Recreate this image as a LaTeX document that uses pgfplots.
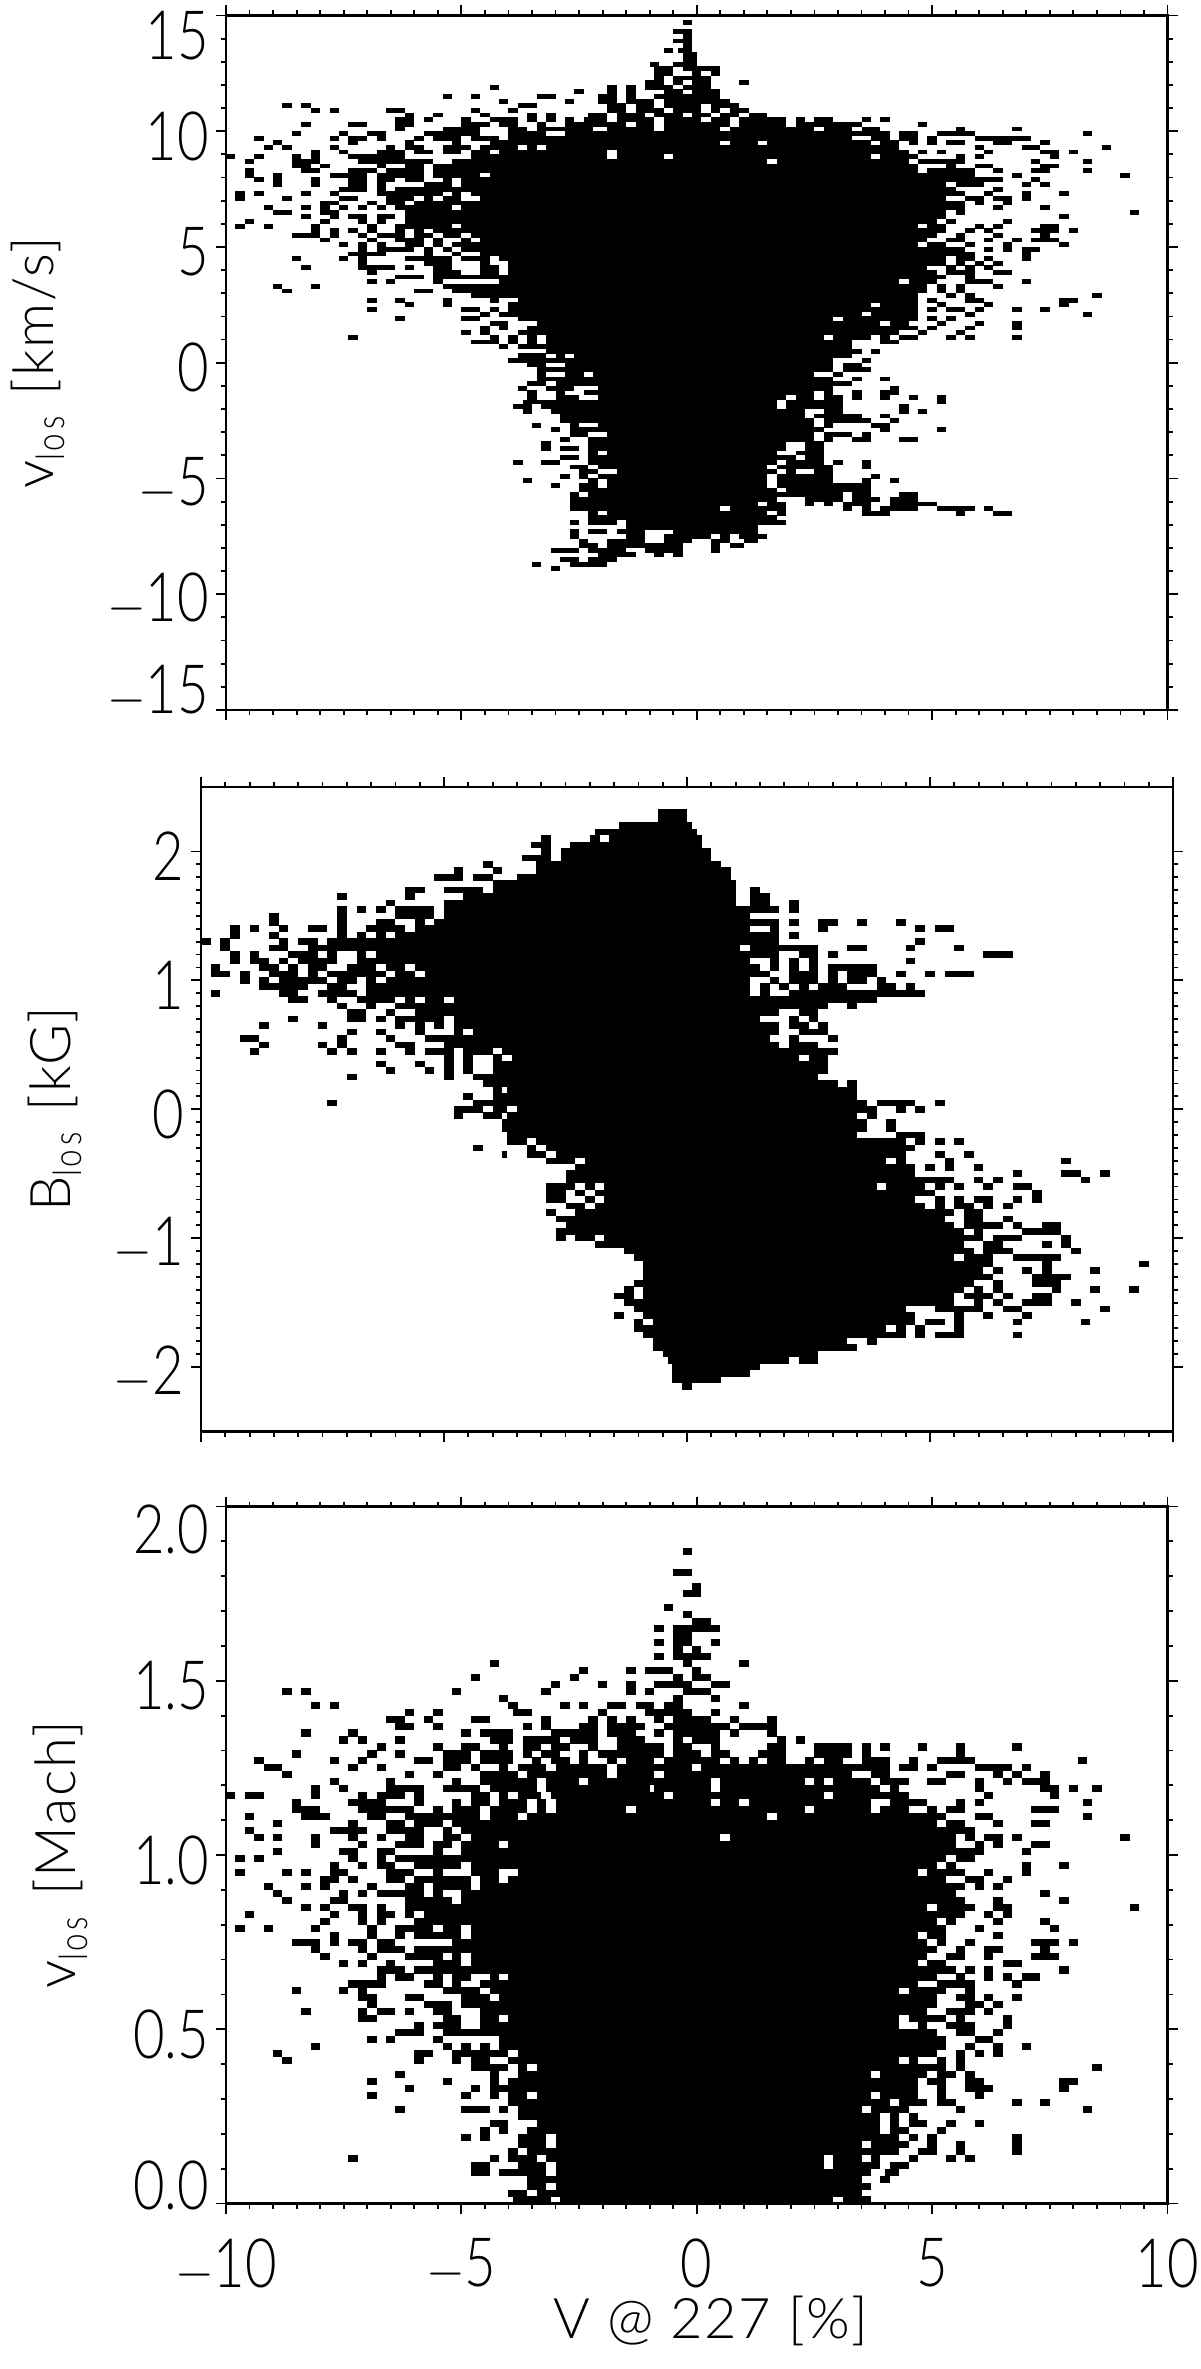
\documentclass[border=0pt]{standalone}
\usepackage{pgfplots}
\pgfplotsset{compat=1.18}
\usepackage{fontspec}
\setmainfont[FakeStretch=0.8]{Lato Light}
\newfontfamily\labfont[LetterSpace=3]{Lato Light}
\pgfplotsset{
 panel/.style={
  scale only axis, width=470.75pt, xmin=-10, xmax=10,
  axis line style={line width=1.3pt},
  tick align=outside, tick pos=both,
  major tick length=5pt, minor tick length=2.5pt,
  every tick/.style={black, line width=.9pt},
  xtick={-10,-5,0,5,10}, minor x tick num=9,
  tick label style={font=\fontsize{34}{34}\selectfont},
  yticklabel style={yshift=-2.5pt},
  xticklabel style={yshift=-9pt},
  label style={font=\labfont\fontsize{28}{28}\selectfont},
 },
}
% every row of a panel is a list of black runs: y, run start, run end
\makeatletter
\def\readruns#1#2{\global\let\r@t#1\global\r@t{}\r@n#2\end}
\def\r@n#1{\ifx#1\end\else\expandafter\r@@\expandafter#1\fi}
\def\r@@#1 #2 #3\\{\global\r@t\expandafter{\the\r@t(#2,#1)(#3,#1)(nan,nan) }\r@n}
\makeatother
\newcommand\runplot[2]{\edef\tmp{\noexpand\addplot[black, line width=#2, unbounded coords=jump] coordinates {\the#1};}\tmp}
\newtoks\runsA \newtoks\runsB \newtoks\runsC
\readruns\runsA{
14.7 -.3 -.1\\ 14.3 -.5 -.1\\ 14.1 -.3 -.1\\ 13.9 -.5 -.1\\ 13.7 -.3 -.1\\ 13.5 -.7 -.5\\ 13.5 -.4 -.1\\ 13.3 -.3 0\\ 13.1 -.3 0\\ 12.9 -1 -.8\\ 12.9 -.5 0\\
12.7 -.9 -.5\\ 12.7 -.3 .5\\ 12.5 -.9 -.5\\ 12.5 -.1 .1\\ 12.5 .3 .5\\ 12.3 -.9 -.7\\ 12.3 -.5 .3\\ 12.1 -1.1 -.7\\ 12.1 -.5 -.3\\ 12.1 -.1 .3\\ 12.1 .9 1.1\\
11.9 -4.4 -4.2\\ 11.9 -1.9 -1.7\\ 11.9 -1.5 -1.3\\ 11.9 -1.1 -.5\\ 11.9 -.3 .3\\
11.7 -2.6 -2.4\\ 11.7 -1.9 -1.7\\ 11.7 -1.5 -1.3\\ 11.7 -.7 -.3\\ 11.7 -.1 .5\\
11.5 -5.4 -5.2\\ 11.5 -4.8 -4.6\\ 11.5 -3.4 -3\\ 11.5 -2.1 -1.7\\ 11.5 -1.5 -1.3\\ 11.5 -.9 .5\\
11.3 -4.2 -4\\ 11.3 -2.8 -2.6\\ 11.3 -2.1 -1.7\\ 11.3 -1.5 -.9\\ 11.3 -.7 .7\\
11.1 -8.8 -8.6\\ 11.1 -8.4 -8.2\\ 11.1 -3.8 -3.4\\ 11.1 -1.9 -1.5\\ 11.1 -1.3 -.9\\ 11.1 -.7 .1\\ 11.1 .3 .9\\
10.9 -8.2 -8\\ 10.9 -7.8 -7.6\\ 10.9 -6.6 -6.2\\ 10.9 -4.8 -4.6\\ 10.9 -4 -3.8\\ 10.9 -1.9 -1.5\\ 10.9 -1.3 -.7\\ 10.9 -.5 .1\\ 10.9 .3 .5\\ 10.9 .7 1.1\\
10.7 -6.2 -6\\ 10.7 -5.6 -5.4\\ 10.7 -4.6 -4.4\\ 10.7 -3.6 -3.4\\ 10.7 -3.2 -3\\ 10.7 -2.3 -1.9\\ 10.7 -1.7 -1.1\\ 10.7 -.9 -.3\\ 10.7 -.1 .3\\ 10.7 .5 .9\\ 10.7 1.1 1.5\\
10.5 -6.4 -6\\ 10.5 -5.8 -5.6\\ 10.5 -5 -4.8\\ 10.5 -4.4 -3.8\\ 10.5 -3.6 -3.4\\ 10.5 -3.2 -3\\ 10.5 -2.8 -2.6\\ 10.5 -2.4 -1.9\\ 10.5 -1.7 -.9\\ 10.5 -.7 .1\\ 10.5 .3 .7\\ 10.5 .9 1.9\\ 10.5 2.1 2.3\\ 10.5 2.5 2.9\\ 10.5 3.5 3.7\\ 10.5 3.9 4.1\\
10.3 -8.4 -8.2\\ 10.3 -7.4 -7\\ 10.3 -6.4 -6\\ 10.3 -5 -4.4\\ 10.3 -4.2 -3.8\\ 10.3 -3.4 -3.2\\ 10.3 -2.8 -1.5\\ 10.3 -1.3 -.9\\ 10.3 -.7 .7\\ 10.3 .9 1.9\\ 10.3 2.1 3.5\\ 10.3 4.7 4.9\\
10.1 -6.4 -6.2\\ 10.1 -5.4 -4.6\\ 10.1 -4 -3.6\\ 10.1 -3.4 -2.2\\ 10.1 -1.9 -.9\\ 10.1 -.7 .5\\ 10.1 .7 2.5\\ 10.1 2.7 3.3\\ 10.1 3.5 3.9\\ 10.1 5.5 5.7\\ 10.1 6.7 6.9\\
9.9 -8.6 -8.4\\ 9.9 -7.6 -7.4\\ 9.9 -7 -6.6\\ 9.9 -5.8 -4.6\\ 9.9 -4 -3.2\\ 9.9 -2.8 4.1\\ 9.9 4.3 4.7\\ 9.9 5.1 5.9\\ 9.9 8.2 8.4\\
9.7 -9.4 -9.2\\ 9.7 -7.8 -7.6\\ 9.7 -7.4 -7\\ 9.7 -6.8 -6.6\\ 9.7 -6 -5.8\\ 9.7 -5.6 -5\\ 9.7 -4.8 -4.2\\ 9.7 -4 3.3\\ 9.7 3.7 4.1\\ 9.7 4.3 4.7\\ 9.7 4.9 5.1\\ 9.7 5.9 7.1\\
9.5 -9 -8.8\\ 9.5 -7.4 -7.2\\ 9.5 -6.2 -6\\ 9.5 -5.2 -5\\ 9.5 -4.4 .5\\ 9.5 .7 1.3\\ 9.5 1.5 3.7\\ 9.5 3.9 4.3\\ 9.5 4.5 4.7\\ 9.5 4.9 5.1\\ 9.5 5.3 5.7\\ 9.5 6.3 6.7\\ 9.5 7.3 7.5\\
9.3 -9.2 -9\\ 9.3 -8.8 -8.6\\ 9.3 -7.8 -7.6\\ 9.3 -6.6 -6.4\\ 9.3 -6.2 -5.8\\ 9.3 -5.4 -4.8\\ 9.3 -4.6 -3.8\\ 9.3 -3.6 -3.4\\ 9.3 -3.2 4.3\\ 9.3 5.9 6.1\\ 9.3 6.9 7.3\\ 9.3 8.6 8.8\\
9.1 -8.2 -8\\ 9.1 -7.6 -7.4\\ 9.1 -6.8 -6.2\\ 9.1 -6 -5.6\\ 9.1 -5.4 -5\\ 9.1 -4.8 -4.4\\ 9.1 -4.2 -1.9\\ 9.1 -1.7 4.5\\ 9.1 4.7 4.9\\ 9.1 5.1 5.3\\ 9.1 6.1 6.3\\ 9.1 7.3 7.7\\ 9.1 7.9 8.1\\
8.9 -10 -9.8\\ 8.9 -9.4 -9.2\\ 8.9 -8.6 -8.4\\ 8.9 -8.2 -8\\ 8.9 -7.4 -6.2\\ 8.9 -4.8 -1.9\\ 8.9 -1.7 -.7\\ 8.9 -.5 3.7\\ 8.9 3.9 4.7\\ 8.9 5.5 5.7\\ 8.9 5.9 6.1\\ 8.9 7.5 7.7\\
8.7 -9.6 -9.4\\ 8.7 -8.6 -8\\ 8.7 -7.2 -5.6\\ 8.7 -5.2 1.5\\ 8.7 1.7 4.5\\ 8.7 4.7 5.7\\ 8.7 7.1 7.3\\ 8.7 8.2 8.4\\
8.5 -8.6 -8.2\\ 8.5 -8 -7.8\\ 8.5 -6.8 -6.6\\ 8.5 -6.2 -5.8\\ 8.5 -5.6 4.7\\ 8.5 5.3 5.5\\ 8.5 5.9 6.3\\ 8.5 7.3 7.7\\
8.3 -9.6 -9.4\\ 8.3 -8.4 -8\\ 8.3 -7.4 -6.8\\ 8.3 -6.6 -5.8\\ 8.3 -5.6 4.7\\ 8.3 4.9 5.9\\ 8.3 6.3 6.5\\ 8.3 7.1 7.5\\ 8.3 8.2 8.4\\
8.1 -9.6 -9.4\\ 8.1 -9 -8.8\\ 8.1 -7.8 -7\\ 8.1 -6.8 -5.8\\ 8.1 -5.6 -4.6\\ 8.1 -4.4 5.9\\ 8.1 6.7 6.9\\ 8.1 9 9.2\\
7.9 -9.4 -9.2\\ 7.9 -9 -8.8\\ 7.9 -8.2 -8\\ 7.9 -7.4 -7\\ 7.9 -6.8 -6.4\\ 7.9 -6.2 -5.8\\ 7.9 -5.4 -5.2\\ 7.9 -5 6.5\\ 7.9 7.1 7.3\\
7.7 -9 -8.8\\ 7.7 -8.2 -8\\ 7.7 -7.4 -7\\ 7.7 -6.8 -6.6\\ 7.7 -5.8 -5.2\\ 7.7 -5 5.3\\ 7.7 5.5 6.1\\ 7.7 6.9 7.1\\ 7.7 7.3 7.5\\
7.5 -7.6 -7\\ 7.5 -6.8 -6.6\\ 7.5 -6.4 5.5\\ 7.5 6.3 6.5\\
7.3 -9.8 -9.6\\ 7.3 -9.4 -9.2\\ 7.3 -8.4 -8.2\\ 7.3 -7.8 -7.6\\ 7.3 -6.8 -5.4\\ 7.3 -5.2 -5\\ 7.3 -4.8 5.7\\ 7.3 6.1 6.3\\ 7.3 6.9 7.1\\ 7.3 7.7 7.9\\
7.1 -9.8 -9.6\\ 7.1 -8.8 -8.6\\ 7.1 -7.6 -7.2\\ 7.1 -6.6 -6\\ 7.1 -5.8 -5.6\\ 7.1 -5.4 -5\\ 7.1 -4.6 5.3\\ 7.1 5.7 6.1\\ 7.1 6.3 6.7\\ 7.1 6.9 7.1\\
6.9 -8 -7.6\\ 6.9 -7 -6.8\\ 6.9 -6.6 -6.2\\ 6.9 -6 5.7\\ 6.9 5.9 6.1\\ 6.9 6.5 6.7\\
6.7 -9.2 -9\\ 6.7 -8.4 -8.2\\ 6.7 -8 -7.8\\ 6.7 -7.6 -7.4\\ 6.7 -7.2 -7\\ 6.7 -6.8 -6.6\\ 6.7 -6.4 -5.2\\ 6.7 -5 5.7\\ 6.7 6.3 6.5\\ 6.7 7.3 7.5\\
6.5 -9 -8.6\\ 6.5 -8 -7.6\\ 6.5 -6.2 5.3\\ 6.5 5.5 5.7\\ 6.5 9.2 9.4\\
6.3 -8.4 -8.2\\ 6.3 -7.8 -7.6\\ 6.3 -7.4 -7\\ 6.3 -6.8 -6.4\\ 6.3 -6.2 5.3\\ 6.3 7.7 7.9\\
6.1 -9.6 -9.4\\ 6.1 -8 -7.8\\ 6.1 -7.2 -7\\ 6.1 -6.8 -6.6\\ 6.1 -6.2 5.1\\ 6.1 5.3 5.5\\ 6.1 6.5 6.7\\
5.9 -9.8 -9.6\\ 5.9 -9.2 -9\\ 5.9 -8.2 -8\\ 5.9 -7 -6.8\\ 5.9 -6.4 -5.2\\ 5.9 -5 4.7\\ 5.9 4.9 5.3\\ 5.9 5.9 6.1\\ 5.9 6.3 6.5\\ 5.9 7.3 7.7\\
5.7 -8.2 -8\\ 5.7 -7.8 -7.6\\ 5.7 -7.4 -7.2\\ 5.7 -7 -6.8\\ 5.7 -6.4 -6.2\\ 5.7 -6 -5.8\\ 5.7 -5.6 5.3\\ 5.7 5.7 5.9\\ 5.7 6.1 6.3\\ 5.7 7.1 7.7\\ 5.7 7.9 8.1\\
5.5 -8.6 -8\\ 5.5 -7.8 -7.6\\ 5.5 -7.2 -7\\ 5.5 -6.8 -6.2\\ 5.5 -6 -5.6\\ 5.5 -5.4 -5\\ 5.5 -4.8 5.1\\ 5.5 5.5 5.7\\ 5.5 6.3 6.5\\ 5.5 7.3 7.5\\
5.3 -8 -7.8\\ 5.3 -7 -6.8\\ 5.3 -6.4 -5.8\\ 5.3 -5.6 -5.4\\ 5.3 -5 -4.8\\ 5.3 -4.6 4.9\\ 5.3 5.3 5.7\\ 5.3 6.1 6.3\\ 5.3 6.7 6.9\\ 5.3 7.1 7.7\\
5.1 -7.6 -7.4\\ 5.1 -7.2 -7\\ 5.1 -6.8 -6.6\\ 5.1 -6.2 -5.8\\ 5.1 -5.6 -5.4\\ 5.1 -5.2 4.7\\ 5.1 4.9 5.3\\ 5.1 5.7 5.9\\ 5.1 6.5 6.7\\ 5.1 7.7 7.9\\
4.9 -7.2 -7\\ 4.9 -6.8 -6\\ 4.9 -5.8 -5.6\\ 4.9 -5.4 -5.2\\ 4.9 -5 5.7\\ 4.9 6.1 6.3\\ 4.9 6.5 6.7\\ 4.9 6.9 7.3\\
4.7 -7.4 -6.6\\ 4.7 -5.8 -5.6\\ 4.7 -5.2 -5\\ 4.7 -4.6 5.9\\ 4.7 6.9 7.1\\
4.5 -8.6 -8.4\\ 4.5 -7.6 -7.4\\ 4.5 -7.2 -7\\ 4.5 -6.2 -5.2\\ 4.5 -5 -4.4\\ 4.5 -4.2 5.3\\ 4.5 5.5 5.9\\ 4.5 6.1 6.3\\ 4.5 6.9 7.1\\
4.3 -7.2 -7\\ 4.3 -5.8 -5.2\\ 4.3 -4.6 -4.4\\ 4.3 -4 5.3\\ 4.3 5.5 5.7\\ 4.3 5.9 6.1\\ 4.3 6.3 6.5\\
4.1 -8.4 -8.2\\ 4.1 -7.2 -6.4\\ 4.1 -6.2 -6\\ 4.1 -5.6 -5.2\\ 4.1 -4.6 -4.2\\ 4.1 -4 4.9\\ 4.1 5.3 5.5\\ 4.1 5.7 5.9\\ 4.1 6.1 6.3\\
3.9 -7 -6.8\\ 3.9 -5.6 -5\\ 3.9 -4.6 -4.2\\ 3.9 -4 5.1\\ 3.9 5.3 5.9\\ 3.9 6.3 6.7\\
3.7 -6.4 -5.8\\ 3.7 -5.6 5.3\\ 3.7 5.7 5.9\\
3.5 -7 -6.8\\ 3.5 -6.6 -6.4\\ 3.5 -5.6 -5.4\\ 3.5 -4.2 4.3\\ 3.5 4.5 5.1\\ 3.5 5.7 6.3\\ 3.5 6.9 7.1\\
3.3 -9 -8.8\\ 3.3 -8.2 -8\\ 3.3 -5.4 4.9\\ 3.3 5.1 5.3\\ 3.3 5.5 5.7\\ 3.3 6.3 6.5\\
3.1 -8.8 -8.6\\ 3.1 -6 -5.6\\ 3.1 -5.2 4.9\\ 3.1 5.1 5.3\\ 3.1 5.5 5.7\\
2.9 -4.8 4.7\\ 2.9 5.3 5.5\\ 2.9 5.7 5.9\\ 2.9 8.4 8.6\\
2.7 -7 -6.8\\ 2.7 -6.4 -6.2\\ 2.7 -5.4 -5.2\\ 2.7 -4.4 -4.2\\ 2.7 -3.8 4.7\\ 2.7 4.9 5.1\\ 2.7 5.7 6.1\\ 2.7 7.7 8.1\\
2.5 -6.2 -6\\ 2.5 -5.4 -5.2\\ 2.5 -4 3.7\\ 2.5 3.9 4.7\\ 2.5 5.1 5.3\\ 2.5 6.1 6.3\\ 2.5 7.7 7.9\\
2.3 -7 -6.8\\ 2.3 -5 -4.6\\ 2.3 -4.4 -4.2\\ 2.3 -4 4.7\\ 2.3 4.9 5.1\\ 2.3 5.3 5.7\\ 2.3 5.9 6.1\\ 2.3 6.7 6.9\\ 2.3 7.3 7.5\\
2.1 -4.6 -4.4\\ 2.1 -4.2 3.5\\ 2.1 3.7 4.7\\ 2.1 5.7 5.9\\ 2.1 8.2 8.4\\
1.9 -6.4 -6.2\\ 1.9 -5 -4.6\\ 1.9 -3.8 2.9\\ 1.9 3.1 4.7\\ 1.9 4.9 5.1\\ 1.9 5.3 5.5\\
1.7 -4.4 -4\\ 1.7 -3.4 3.9\\ 1.7 4.1 4.5\\ 1.7 5.1 5.3\\ 1.7 5.9 6.1\\ 1.7 6.7 6.9\\
1.5 -4.6 -4.4\\ 1.5 -4.2 -4\\ 1.5 -3.6 4.7\\ 1.5 4.9 5.1\\ 1.5 5.7 5.9\\ 1.5 6.7 6.9\\
1.3 -5 -4.8\\ 1.3 -4.6 -4.4\\ 1.3 -3.8 4.3\\ 1.3 4.7 4.9\\ 1.3 5.5 5.7\\
1.1 -7.4 -7.2\\ 1.1 -4.4 -4.2\\ 1.1 -4 -3.8\\ 1.1 -3.6 -3.4\\ 1.1 -3.2 2.7\\ 1.1 2.9 3.7\\ 1.1 3.9 4.1\\ 1.1 4.3 4.7\\ 1.1 5.3 5.5\\ 1.1 5.7 5.9\\ 1.1 6.7 6.9\\
.9 -4.8 -4.2\\ .9 -4 -3.8\\ .9 -3.6 -3.4\\ .9 -3.2 3.3\\ .9 3.9 4.3\\
.7 -4.2 -4\\ .7 -3.8 3.3\\ .5 -3.2 3.5\\ .5 3.7 3.9\\ .3 -3.8 -3.2\\ .3 -3 -2.8\\ .3 -2.6 3.3\\ .1 -4 2.9\\ .1 3.5 3.7\\
-.1 -3.6 -3.2\\ -.1 -2.8 2.9\\ -.1 3.1 3.5\\ -.3 -3.4 2.9\\ -.3 3.1 3.7\\ -.5 -3.4 -3.2\\ -.5 -2.8 -2.4\\ -.5 -2.2 2.5\\ -.5 2.9 3.1\\
-.7 -3.4 2.9\\ -.7 3.3 3.5\\ -.7 3.9 4.1\\ -.9 -3.6 -3.2\\ -.9 -3 3.3\\ -1.1 -3.8 -3.6\\ -1.1 -3.2 -2.6\\ -1.1 -2.1 2.9\\ -1.1 4.1 4.3\\
-1.3 -3.6 -3.4\\ -1.3 -3 -2.8\\ -1.3 -2.4 2.5\\ -1.3 2.7 2.9\\ -1.3 3.3 3.5\\ -1.3 3.9 4.3\\
-1.5 -3.6 -3.4\\ -1.5 -3 -2.5\\ -1.5 -2.1 1.9\\ -1.5 2.1 2.5\\ -1.5 2.7 3.1\\ -1.5 3.3 3.5\\ -1.5 3.9 4.1\\ -1.5 4.5 4.7\\ -1.5 5.1 5.3\\
-1.7 -3.7 1.7\\ -1.7 1.9 3.1\\ -1.7 5.1 5.3\\ -1.9 -3.9 -3.5\\ -1.9 -3.3 1.7\\ -1.9 1.9 3.1\\ -1.9 4.3 4.5\\
-2.1 -3.7 -3.5\\ -2.1 -3.1 2.3\\ -2.1 2.7 3.1\\ -2.1 4.3 4.5\\ -2.1 4.7 4.9\\ -2.3 -2.9 2.3\\ -2.3 2.5 3.5\\ -2.3 3.9 4.1\\
-2.5 -2.9 2.5\\ -2.5 2.7 3.7\\ -2.5 4.1 4.3\\ -2.7 -3.5 -3.3\\ -2.7 -2.7 -2.5\\ -2.7 -2.1 2.5\\ -2.7 2.7 2.9\\ -2.7 3.7 4.1\\
-2.9 -3.1 -2.9\\ -2.9 -2.7 2.7\\ -2.9 3.9 4.1\\ -2.9 5.1 5.3\\ -3.1 -2.7 -2.3\\ -3.1 -1.9 2.5\\ -3.1 2.7 3.3\\ -3.1 3.5 3.7\\
-3.3 -2.9 -2.7\\ -3.3 -2.3 2.5\\ -3.3 2.7 2.9\\ -3.3 3.3 3.7\\ -3.3 4.3 4.7\\ -3.5 -3.3 -3.1\\ -3.5 -2.3 1.9\\ -3.5 2.3 2.7\\
-3.7 -3.3 -3.1\\ -3.7 -2.9 -2.5\\ -3.7 -2.3 1.9\\ -3.7 2.3 2.7\\ -3.9 -2.3 -2.1\\ -3.9 -1.9 1.7\\ -3.9 2.1 2.7\\ -4.1 -2.9 -2.5\\ -4.1 -2.3 2.1\\ -4.1 2.3 2.7\\
-4.3 -3.9 -3.7\\ -4.3 -3.3 -2.9\\ -4.3 -2.3 1.7\\ -4.3 1.9 2.7\\ -4.3 2.9 3.1\\ -4.3 3.5 3.7\\ -4.5 -2.7 -2.3\\ -4.5 -2.1 1.5\\ -4.5 1.7 2.9\\ -4.5 3.5 3.7\\
-4.7 -2.5 -2.1\\ -4.7 -1.7 1.7\\ -4.7 1.9 2.1\\ -4.7 2.5 2.9\\ -4.9 -2.9 -2.7\\ -4.9 -2.5 -2.3\\ -4.9 -2.1 1.5\\ -4.9 1.7 2.9\\ -4.9 3.7 3.9\\
-5.1 -3.7 -3.5\\ -5.1 -2.3 -2.1\\ -5.1 -1.9 1.5\\ -5.1 1.7 2.9\\ -5.1 3.5 3.7\\ -5.1 4.1 4.3\\ -5.3 -3.1 -2.9\\ -5.3 -2.5 -2.1\\ -5.3 -1.9 1.5\\ -5.3 1.7 3.7\\
-5.5 -2.5 1.7\\ -5.5 1.9 3.7\\ -5.7 -2.7 -2.5\\ -5.7 -2.3 3.1\\ -5.7 3.3 3.7\\ -5.7 4.3 4.7\\ -5.9 -2.7 1.7\\ -5.9 2.3 3.1\\ -5.9 3.3 3.9\\ -5.9 4.1 4.7\\
-6.1 -2.7 1.3\\ -6.1 1.5 1.9\\ -6.1 2.3 2.5\\ -6.1 2.7 2.9\\ -6.1 3.1 3.7\\ -6.1 4.1 5.1\\ -6.3 -2.7 .5\\ -6.3 .7 1.9\\ -6.3 3.1 3.3\\ -6.3 3.5 3.7\\ -6.3 3.9 4.7\\ -6.3 5.1 5.9\\ -6.3 6.1 6.3\\
-6.5 -2.3 -2.1\\ -6.5 -1.9 1.5\\ -6.5 1.7 1.9\\ -6.5 3.5 4.1\\ -6.5 5.5 5.7\\ -6.5 6.3 6.7\\ -6.7 -2.3 1.7\\ -6.9 -2.7 -2.5\\ -6.9 -2.3 -1.7\\ -6.9 -1.5 1.9\\
-7.1 -1.5 1.3\\ -7.3 -2.7 -2.5\\ -7.3 -2.3 -1.9\\ -7.3 -1.7 -1.1\\ -7.3 -.5 1.3\\ -7.5 -2.7 -2.5\\ -7.5 -1.5 -1.1\\ -7.5 -.7 .3\\ -7.5 .5 .7\\ -7.5 .9 1.5\\
-7.7 -2.5 -2.3\\ -7.7 -1.9 -1.1\\ -7.7 -.7 -.1\\ -7.7 .3 .7\\ -7.7 1 1.3\\ -7.9 -2.5 -2.1\\ -7.9 -1.9 -.3\\ -7.9 .3 .5\\ -7.9 .7 1\\
-8.1 -3.1 -2.5\\ -8.1 -2.3 -1.5\\ -8.1 -1.1 -.3\\ -8.1 .3 .5\\ -8.3 -2.1 -1.3\\ -8.3 -.9 -.7\\ -8.3 -.5 -.3\\ -8.5 -2.9 -2.5\\ -8.5 -2.3 -1.7\\ -8.7 -3.5 -3.3\\ -8.7 -2.7 -1.9\\ -8.9 -3.1 -2.9\\
}
\readruns\runsB{
2.3 -.6 0\\ 2.25 -.6 0\\ 2.2 -1.4 .1\\ 2.15 -1.9 .2\\ 2.1 -3 -2.8\\ 2.1 -2 -1.8\\ 2.1 -1.6 .3\\ 2.05 -3.2 -2.8\\ 2.05 -2.4 .3\\ 2 -3 -2.8\\ 2 -2.6 .5\\ 1.95 -3.4 -2.8\\ 1.95 -2.6 .5\\
1.9 -4.2 -4\\ 1.9 -3.1 .7\\ 1.85 -4.8 -4.6\\ 1.85 -4 -3.8\\ 1.85 -3.1 .9\\ 1.8 -5.2 -4.6\\ 1.8 -4.4 -4\\ 1.8 -3.5 .9\\ 1.75 -4 1\\ 1.7 -5.8 -5.4\\ 1.7 -5 -4.2\\ 1.7 -4 1\\ 1.7 1.3 1.5\\
1.65 -7.2 -7\\ 1.65 -5.8 -5.6\\ 1.65 -4.6 1\\ 1.65 1.3 1.7\\ 1.6 -6.2 -6\\ 1.6 -5 1\\ 1.6 1.3 1.7\\ 1.6 2.1 2.3\\
1.55 -7.2 -7\\ 1.55 -6.8 -6.6\\ 1.55 -6.4 -6.2\\ 1.55 -6 -5.2\\ 1.55 -5 1.9\\ 1.55 2.1 2.3\\ 1.5 -8.6 -8.4\\ 1.5 -7.2 -7\\ 1.5 -6 -5.2\\ 1.5 -5 1.3\\
1.45 -8.6 -8.4\\ 1.45 -7.2 -7\\ 1.45 -6.4 -6\\ 1.45 -5.6 -5.4\\ 1.45 -5.2 1.9\\ 1.45 2.1 2.3\\ 1.45 2.7 3.1\\ 1.45 3.5 3.7\\ 1.45 4.3 4.5\\
1.4 -9.4 -9.2\\ 1.4 -9 -8.8\\ 1.4 -8.4 -8.2\\ 1.4 -7.8 -7.4\\ 1.4 -7.2 -7\\ 1.4 -6.6 -5.8\\ 1.4 -5.6 1.3\\ 1.4 1.7 1.9\\ 1.4 2.7 2.9\\ 1.4 4.7 4.9\\ 1.4 5.1 5.5\\
1.35 -9.4 -9.2\\ 1.35 -8.6 -8.4\\ 1.35 -7.2 -7\\ 1.35 -6.8 -6.6\\ 1.35 -6.4 -6.2\\ 1.35 -6 1.9\\ 1.35 2.1 2.3\\
1.3 -10 -9.8\\ 1.3 -9.6 -9.4\\ 1.3 -8.4 -8.2\\ 1.3 -8 -7.6\\ 1.3 -7.4 1.9\\ 1.3 4.7 4.9\\
1.25 -9.6 -9.4\\ 1.25 -8.6 -8.2\\ 1.25 -7.8 1.1\\ 1.25 1.3 2.7\\ 1.25 3.3 3.7\\ 1.25 4.5 4.7\\ 1.25 5.5 5.7\\
1.2 -9.4 -9.2\\ 1.2 -9 -8.8\\ 1.2 -8.2 -7.6\\ 1.2 -7.4 -7.2\\ 1.2 -6.8 -6.6\\ 1.2 -6.4 1.9\\ 1.2 2.3 2.7\\ 1.2 2.9 3.1\\ 1.2 6.1 6.7\\
1.15 -9.4 -9.2\\ 1.15 -9 -8.6\\ 1.15 -8.4 -8.2\\ 1.15 -8 -7.2\\ 1.15 -6.8 1.3\\ 1.15 1.7 1.9\\ 1.15 2.1 2.3\\ 1.15 2.5 2.7\\ 1.15 4.5 4.7\\
1.1 -9.8 -9.6\\ 1.1 -8.8 -8.4\\ 1.1 -8.2 -8\\ 1.1 -7.8 -7.4\\ 1.1 -7 -6.4\\ 1.1 -6.2 -5.8\\ 1.1 -5.6 1.5\\ 1.1 1.7 1.9\\ 1.1 2.1 2.3\\ 1.1 2.5 2.7\\ 1.1 2.9 3.9\\
1.05 -9.8 -9.4\\ 1.05 -9.2 -9\\ 1.05 -8.6 -8\\ 1.05 -7.8 -7.6\\ 1.05 -7.4 -6.2\\ 1.05 -6 -5.6\\ 1.05 -5.4 1.7\\ 1.05 2.1 2.7\\ 1.05 2.9 3.1\\ 1.05 3.3 3.9\\ 1.05 4.3 4.5\\ 1.05 4.9 5.1\\ 1.05 5.3 5.9\\
1 -9.2 -9\\ 1 -8.8 -8.6\\ 1 -8.4 -7.4\\ 1 -7.2 -6.8\\ 1 -6.6 -6.4\\ 1 -6.2 1.3\\ 1 1.7 1.9\\ 1 2.1 2.7\\ 1 2.9 3.1\\ 1 3.3 3.7\\ 1 3.9 4.1\\
.95 -8.8 -7.8\\ .95 -7.4 -7\\ .95 -6.6 1.3\\ .95 1.5 1.7\\ .95 1.9 2.1\\ .95 2.3 2.5\\ .95 2.7 3.3\\ .95 3.9 4.3\\ .95 4.5 4.7\\
.9 -9.8 -9.6\\ .9 -8.4 -8\\ .9 -7.6 -6.8\\ .9 -6.6 1.3\\ .9 1.5 1.7\\ .9 2.1 4.9\\ .85 -8.2 -7.8\\ .85 -7.4 -7.2\\ .85 -6.8 -6\\ .85 -5.8 -5.6\\ .85 -5.4 -5\\ .85 -4.8 3.9\\
.8 -7.2 -7\\ .8 -6.6 -6.4\\ .8 -6 2.9\\ .8 3.3 3.5\\ .75 -7 -6.6\\ .75 -6.2 -6\\ .75 -5.6 1.9\\ .75 2.3 2.7\\
.7 -8.2 -8\\ .7 -7 -6.6\\ .7 -6.4 -6.2\\ .7 -6 -5\\ .7 -4.8 1.5\\ .7 2.1 2.3\\ .7 2.5 2.7\\ .65 -8.8 -8.6\\ .65 -7.6 -7.4\\ .65 -6 -5.8\\ .65 -5.6 -5.4\\ .65 -5.2 -5\\ .65 -4.8 1.9\\ .65 2.1 2.5\\ .65 2.7 2.9\\
.6 -7 -6.8\\ .6 -6.4 -6.2\\ .6 -5.6 -5.4\\ .6 -4.8 -4.6\\ .6 -4.4 1.9\\ .6 2.3 2.9\\ .55 -9.2 -8.8\\ .55 -7.2 -7\\ .55 -6.2 -6\\ .55 -5.4 1.7\\ .55 2.1 2.3\\ .55 2.9 3.1\\
.5 -8.8 -8.6\\ .5 -7.6 -7.4\\ .5 -7.2 -7\\ .5 -6 -5.6\\ .5 -5 1.9\\ .5 2.1 2.7\\ .45 -9 -8.8\\ .45 -7.4 -7.2\\ .45 -7 -6.8\\ .45 -6.4 -6.2\\ .45 -5.8 -5.6\\ .45 -5.4 -4.8\\ .45 -4.6 -4\\ .45 -3.8 3.1\\
.4 -5 -4.8\\ .4 -4.6 -4.4\\ .4 -4 -3.8\\ .4 -3.6 2.3\\ .4 2.5 2.9\\ .35 -6.4 -6.2\\ .35 -5.6 -5.4\\ .35 -5 -4.8\\ .35 -4.6 -4.4\\ .35 -4 2.9\\
.3 -6.2 -6\\ .3 -5.4 -5.2\\ .3 -5 -4.8\\ .3 -4.6 -4.4\\ .3 -4 2.9\\ .25 -7 -6.8\\ .25 -5 -4.8\\ .25 -4.4 2.7\\ .2 -4.2 3.1\\ .2 3.3 3.5\\ .15 -4 -3.8\\ .15 -3.7 3.5\\ .1 -4.6 -4.4\\ .1 -4 3.5\\
.05 -7.4 -7.2\\ .05 -4.4 3.7\\ .05 3.9 4.7\\ .05 5.1 5.3\\ 0 -4.8 -4.2\\ 0 -4 -3.7\\ 0 -3.5 3.9\\ 0 4.3 4.5\\ 0 4.7 4.9\\ -.05 -4.8 -4.6\\ -.05 -4.2 -3.8\\ -.05 -3.7 3.5\\ -.05 3.7 3.9\\
-.1 -3.8 3.7\\ -.1 4.1 4.3\\ -.15 -3.8 3.7\\ -.15 4.1 4.3\\ -.2 -3.7 3.5\\ -.2 4.3 4.9\\ -.25 -3.7 -3.3\\ -.25 -3.1 4.5\\ -.25 4.7 4.9\\ -.25 5.1 5.3\\ -.25 5.5 5.7\\
-.3 -4.4 -4.2\\ -.3 -3.3 -3.1\\ -.3 -2.9 4.7\\ -.35 -3.8 -3.7\\ -.35 -3.3 -2.9\\ -.35 -2.7 4.5\\ -.35 5.1 5.3\\ -.35 5.7 5.9\\
-.4 -2.9 -2.3\\ -.4 -2.1 4.1\\ -.4 4.3 4.5\\ -.4 5.3 5.5\\ -.4 7.7 7.9\\ -.45 -2.3 4.7\\ -.45 4.9 5.1\\ -.45 5.3 5.5\\ -.45 5.9 6.1\\
-.5 -2.5 4.7\\ -.5 6.7 6.9\\ -.5 7.7 8.1\\ -.5 8.5 8.7\\ -.55 -2.5 5.5\\ -.55 5.9 6.1\\ -.55 6.3 6.5\\ -.55 8.1 8.3\\
-.6 -2.9 -2.3\\ -.6 -2.1 -1.9\\ -.6 -1.7 3.9\\ -.6 4.1 4.9\\ -.6 5.1 5.3\\ -.6 5.5 5.7\\ -.6 6.1 6.3\\ -.6 6.7 7.1\\ -.65 -2.9 -2.5\\ -.65 -2.3 -2.1\\ -.65 -1.9 5.1\\ -.65 7.1 7.3\\
-.7 -2.9 -2.5\\ -.7 -2.1 -1.9\\ -.7 -1.7 4.7\\ -.7 5.1 5.3\\ -.7 5.5 5.7\\ -.7 5.9 6.3\\ -.7 6.7 6.9\\ -.7 7.1 7.3\\ -.75 -2.5 -2.1\\ -.75 -1.9 4.9\\ -.75 5.1 5.3\\ -.75 5.5 5.9\\ -.75 6.1 6.3\\ -.75 6.5 6.7\\
-.8 -2.9 -2.7\\ -.8 -2.3 5.5\\ -.8 5.7 6.1\\ -.85 -2.7 5.3\\ -.85 5.7 6.1\\ -.85 6.5 6.7\\ -.9 -2.5 5.5\\ -.9 5.7 6.5\\ -.9 6.7 6.9\\ -.9 7.3 7.7\\ -.95 -2.7 5.7\\ -.95 5.9 6.1\\ -.95 6.9 7.7\\
-1 -2.7 -2.5\\ -1 -2.3 -1.9\\ -1 -1.7 6.1\\ -1 6.3 6.9\\ -1 7.7 7.9\\ -1.05 -1.9 5.7\\ -1.05 6.1 6.5\\ -1.05 7.3 7.5\\ -1.05 7.7 7.9\\ -1.1 -1.3 5.9\\ -1.1 6.1 6.7\\ -1.1 7.9 8.1\\
-1.15 -1.1 5.5\\ -1.15 5.7 6.3\\ -1.15 6.7 7.7\\ -1.2 -.9 6.3\\ -1.2 7.3 7.5\\ -1.2 9.3 9.5\\ -1.25 -.9 6.1\\ -1.25 6.3 6.5\\ -1.25 6.9 7.1\\ -1.25 7.3 7.5\\ -1.25 8.3 8.5\\
-1.3 -.9 6.3\\ -1.3 7.1 7.9\\ -1.35 -1.1 5.9\\ -1.35 6.3 6.5\\ -1.35 7.1 7.7\\ -1.4 -1.3 -1.1\\ -1.4 -.9 5.7\\ -1.4 5.9 6.1\\ -1.4 6.3 6.5\\ -1.4 7.5 7.7\\ -1.4 8.3 8.5\\ -1.4 9.1 9.3\\
-1.45 -1.5 -1.1\\ -1.45 -.9 5.5\\ -1.45 5.7 6.3\\ -1.45 6.5 6.7\\ -1.45 7.1 7.5\\ -1.5 -1.3 5.5\\ -1.5 5.9 6.1\\ -1.5 6.3 6.5\\ -1.5 6.9 7.5\\ -1.5 7.9 8.1\\
-1.55 -1.1 4.5\\ -1.55 5.1 6.1\\ -1.55 6.5 6.9\\ -1.55 8.5 8.7\\ -1.6 -1.5 -1.3\\ -1.6 -.9 4.7\\ -1.6 5.5 5.7\\ -1.6 6.1 6.3\\ -1.6 6.9 7.1\\
-1.65 -1.1 -.9\\ -1.65 -.7 4.7\\ -1.65 4.9 5.3\\ -1.65 5.5 5.7\\ -1.65 6.7 6.9\\ -1.65 8.1 8.3\\ -1.7 -1.1 4.1\\ -1.7 4.3 4.5\\ -1.7 4.7 4.9\\ -1.7 5.5 5.7\\
-1.75 -.9 4.5\\ -1.75 4.7 4.9\\ -1.75 5.1 5.7\\ -1.75 6.7 6.9\\ -1.8 -.7 3.3\\ -1.8 3.7 3.9\\ -1.85 -.7 3.5\\ -1.9 -.5 2.7\\ -1.95 -.4 2.1\\ -1.95 2.3 2.7\\ -2 -.3 1.5\\ -2.05 -.3 1.3\\ -2.1 -.3 .7\\ -2.15 -.1 .1\\
}
\readruns\runsC{
1.87 -.3 -.1\\ 1.81 -.5 -.1\\ 1.77 -.1 .1\\ 1.75 -.3 .1\\ 1.71 -.7 -.5\\ 1.69 -.3 -.1\\ 1.67 -.1 .3\\ 1.65 -.9 -.7\\ 1.65 -.5 .5\\ 1.63 -.5 -.1\\ 1.61 -.9 -.7\\ 1.61 -.5 -.1\\ 1.61 .3 .5\\ 1.59 -.5 -.3\\ 1.59 -.1 .1\\ 1.57 -.9 -.7\\ 1.57 -.5 .3\\
1.55 -4.4 -4.2\\ 1.55 -.3 -.1\\ 1.55 .9 1.1\\ 1.53 -2.5 -2.3\\ 1.53 -1.5 -1.3\\ 1.53 -1.1 -.5\\ 1.53 -.1 .1\\ 1.51 -4.8 -4.6\\ 1.51 -2.7 -2.5\\ 1.51 -.5 -.3\\ 1.51 -.1 .3\\
1.49 -3.1 -2.9\\ 1.49 -2.1 -1.9\\ 1.49 -1.5 -1.3\\ 1.49 -.9 -.1\\ 1.49 .3 .7\\ 1.47 -8.8 -8.6\\ 1.47 -8.4 -8.2\\ 1.47 -5.2 -5\\ 1.47 -3.3 -3.1\\ 1.47 -1.5 -1.3\\ 1.47 -1.1 -.9\\ 1.47 -.3 .3\\ 1.45 -4.2 -4\\ 1.45 -.5 -.3\\ 1.45 .3 .5\\
1.43 -8.2 -8\\ 1.43 -7.8 -7.6\\ 1.43 -4 -3.8\\ 1.43 -2.9 -2.7\\ 1.43 -2.5 -2.3\\ 1.43 -1.9 -1.5\\ 1.43 -1.3 -.9\\ 1.43 -.7 -.3\\ 1.43 .9 1.1\\ 1.41 -6.2 -6\\ 1.41 -5.6 -5.4\\ 1.41 -3.9 -3.5\\ 1.41 -2.1 -1.9\\ 1.41 -1.1 -.1\\ 1.41 .3 .5\\
1.39 -6.6 -6.2\\ 1.39 -5.8 -5.6\\ 1.39 -4.8 -4.4\\ 1.39 -3.3 -3.1\\ 1.39 -2.3 -2.1\\ 1.39 -1.9 -1.7\\ 1.39 -1.5 -1.3\\ 1.39 -.9 -.7\\ 1.39 -.5 .3\\ 1.39 .7 .9\\ 1.39 1.5 1.7\\
1.37 -6.4 -6\\ 1.37 -5.6 -5.4\\ 1.37 -3.7 -3.5\\ 1.37 -3.3 -3.1\\ 1.37 -2.5 -2.1\\ 1.37 -1.9 -1.1\\ 1.37 -.7 .7\\ 1.37 .9 1.7\\
1.35 -8.4 -8.2\\ 1.35 -7.4 -7.2\\ 1.35 -5 -4.8\\ 1.35 -4.6 -3.9\\ 1.35 -3.1 -2.1\\ 1.35 -1.9 -1.3\\ 1.35 -.9 -.7\\ 1.35 -.5 .5\\ 1.35 .7 .9\\ 1.35 1.5 1.7\\
1.33 -7.6 -7.4\\ 1.33 -7.2 -7\\ 1.33 -6.4 -6.2\\ 1.33 -4.4 -3.9\\ 1.33 -3.7 -2.9\\ 1.33 -2.7 -2.1\\ 1.33 -1.7 -1.1\\ 1.33 -.5 -.3\\ 1.33 -.1 .5\\ 1.33 1.7 1.9\\ 1.33 2.1 2.3\\
1.31 -6.8 -6.6\\ 1.31 -5.6 -5.4\\ 1.31 -5 -4.6\\ 1.31 -4.2 -4\\ 1.31 -3.7 -3.3\\ 1.31 -3.1 -2.7\\ 1.31 -2.3 -2.1\\ 1.31 -1.7 -.7\\ 1.31 -.5 -.1\\ 1.31 .3 .5\\ 1.31 1.5 1.9\\ 1.31 2.5 3.3\\ 1.31 3.5 3.7\\ 1.31 3.9 4.1\\ 1.31 4.7 4.9\\ 1.31 5.5 5.7\\ 1.31 6.7 6.9\\
1.29 -8.6 -8.4\\ 1.29 -7 -6.8\\ 1.29 -6.4 -6.2\\ 1.29 -5.4 -4.8\\ 1.29 -4.6 -3.9\\ 1.29 -3.7 -3.5\\ 1.29 -3.3 -2.9\\ 1.29 -2.5 -2.3\\ 1.29 -2.1 -.7\\ 1.29 -.5 .1\\ 1.29 .3 .7\\ 1.29 1.3 1.9\\ 1.29 2.5 3.3\\ 1.29 3.5 3.7\\ 1.29 5.5 5.7\\
1.27 -9.4 -9.2\\ 1.27 -7.8 -7.6\\ 1.27 -7.2 -7\\ 1.27 -6 -5.6\\ 1.27 -5.4 -4.8\\ 1.27 -4.6 -3.9\\ 1.27 -3.5 -3.3\\ 1.27 -3.1 -2.7\\ 1.27 -2.5 -2.3\\ 1.27 -1.9 -1.7\\ 1.27 -1.5 -.9\\ 1.27 -.7 .5\\ 1.27 .7 .9\\ 1.27 1.1 1.3\\ 1.27 1.5 1.9\\ 1.27 2.3 2.5\\ 1.27 2.7 3.1\\ 1.27 3.5 4.1\\ 1.27 4.5 4.7\\ 1.27 5.1 5.9\\ 1.27 8.1 8.3\\
1.25 -9.2 -8.8\\ 1.25 -7.4 -7.2\\ 1.25 -6.8 -6.6\\ 1.25 -5.4 -5\\ 1.25 -4.8 -4.6\\ 1.25 -4.2 -4\\ 1.25 -3.8 -3.2\\ 1.25 -3 -1.9\\ 1.25 -1.7 -.1\\ 1.25 .1 4.1\\ 1.25 4.3 4.7\\ 1.25 4.9 5.1\\ 1.25 5.9 6.7\\ 1.25 6.9 7.1\\
1.23 -8.8 -8.6\\ 1.23 -6.2 -6\\ 1.23 -5.6 -5.4\\ 1.23 -4.6 -3.8\\ 1.23 -3.6 -1.9\\ 1.23 -1.7 -.9\\ 1.23 -.7 3.3\\ 1.23 3.7 4.1\\ 1.23 5.3 5.7\\ 1.23 6.3 6.5\\ 1.23 6.7 6.9\\ 1.23 7.3 7.5\\
1.21 -7.8 -7.6\\ 1.21 -6.6 -6.4\\ 1.21 -5.2 -5\\ 1.21 -4.6 -3.4\\ 1.21 -3.2 -2.5\\ 1.21 -2.3 .3\\ 1.21 .5 2.3\\ 1.21 2.5 2.7\\ 1.21 2.9 3.7\\ 1.21 3.9 4.5\\ 1.21 4.9 5.3\\ 1.21 5.9 6.1\\ 1.21 6.5 6.7\\ 1.21 6.9 7.5\\
1.19 -8.2 -8\\ 1.19 -7.6 -7.4\\ 1.19 -6.6 -5.8\\ 1.19 -5.4 -4.6\\ 1.19 -4.4 -3.4\\ 1.19 -3.2 -1\\ 1.19 -.9 .3\\ 1.19 .5 3.9\\ 1.19 4.1 4.3\\ 1.19 5.9 6.1\\ 1.19 7.3 7.7\\ 1.19 7.9 8.1\\ 1.19 8.4 8.6\\
1.17 -10 -9.8\\ 1.17 -9.6 -9.2\\ 1.17 -8.2 -8\\ 1.17 -7.2 -7\\ 1.17 -6.8 -6.2\\ 1.17 -6 -5.8\\ 1.17 -4.8 -4.4\\ 1.17 -4.2 -4\\ 1.17 -3.8 -3.3\\ 1.17 -3.1 -.7\\ 1.17 -.5 2.7\\ 1.17 2.9 4.5\\ 1.17 6.1 6.3\\ 1.17 7.5 7.7\\
1.15 -8.6 -8.4\\ 1.15 -7.4 -6.6\\ 1.15 -6 -5.8\\ 1.15 -5.2 -5\\ 1.15 -4.8 -4.4\\ 1.15 -4.2 -3.6\\ 1.15 -3.4 -3.2\\ 1.15 -3 .3\\ 1.15 .5 .9\\ 1.15 1.1 3.7\\ 1.15 4.1 4.9\\ 1.15 5.5 5.7\\ 1.15 5.9 6.1\\ 1.15 8.2 8.4\\
1.13 -8.6 -8\\ 1.13 -7.2 -6\\ 1.13 -5.6 -5.4\\ 1.13 -5.2 -4.6\\ 1.13 -4.4 -3.6\\ 1.13 -3.4 -3.2\\ 1.13 -3 -1.5\\ 1.13 -1.3 2.3\\ 1.13 2.5 3.7\\ 1.13 3.9 4.5\\ 1.13 4.9 5.1\\ 1.13 5.3 5.7\\ 1.13 7.1 7.7\\
1.11 -9.6 -9.4\\ 1.11 -8.4 -7.8\\ 1.11 -7 -6.6\\ 1.11 -6.2 -4.6\\ 1.11 -4.4 -3.8\\ 1.11 -3.6 1.5\\ 1.11 1.7 5.3\\ 1.11 5.9 6.3\\ 1.11 8.2 8.4\\
1.09 -9 -8.8\\ 1.09 -7.4 -7.2\\ 1.09 -6.6 -6.2\\ 1.09 -6 -5.4\\ 1.09 -5.2 5.1\\ 1.09 5.3 5.7\\ 1.09 6.3 6.5\\ 1.09 7.1 7.5\\ 1.07 -9.6 -9.4\\ 1.07 -7.8 -7\\ 1.07 -6.6 -5.8\\ 1.07 -5.4 -5.2\\ 1.07 -5 5.9\\
1.05 -9.4 -9.2\\ 1.05 -9 -8.8\\ 1.05 -8.2 -8\\ 1.05 -7.4 -7.2\\ 1.05 -6.8 -6.6\\ 1.05 -6.2 -5.8\\ 1.05 -5.4 -5\\ 1.05 -4.8 .5\\ 1.05 .7 5.5\\ 1.05 5.7 5.9\\ 1.05 6.1 6.5\\ 1.05 6.7 6.9\\ 1.05 9 9.2\\
1.03 -8.2 -8\\ 1.03 -7.2 -7\\ 1.03 -6.4 -5.8\\ 1.03 -5.6 -5.2\\ 1.03 -5 -4.2\\ 1.03 -4 5.5\\ 1.03 5.9 6.1\\ 1.03 6.3 6.5\\ 1.03 7.1 7.5\\ 1.01 -9 -8.8\\ 1.01 -7.6 -7.2\\ 1.01 -6.8 -6.4\\ 1.01 -5.6 -5.4\\ 1.01 -5 6.1\\ 1.01 6.9 7.1\\
.99 -9.8 -9.6\\ .99 -9.4 -9.2\\ .99 -7.4 -7.2\\ .99 -6.8 -6.6\\ .99 -6.4 5.3\\ .99 5.5 5.9\\ .97 -7.8 -7.6\\ .97 -7.2 -7\\ .97 -6.8 -6.4\\ .97 -6 -5\\ .97 -4.8 5.1\\ .97 5.3 5.5\\ .97 6.9 7.1\\ .97 7.7 7.9\\
.95 -9.8 -9.6\\ .95 -8.8 -8.6\\ .95 -8.4 -8.2\\ .95 -7.8 -7.4\\ .95 -6.6 -6\\ .95 -5.6 -5.4\\ .95 -4.8 -4.2\\ .95 -3.8 4.7\\ .95 4.9 5.7\\ .95 6.1 6.3\\ .95 6.9 7.1\\ .93 -8 -7.6\\ .93 -7.4 -7.2\\ .93 -6.6 -6.2\\ .93 -6 -4.8\\ .93 -4.6 -4.2\\ .93 -4 5.3\\ .93 5.7 6.1\\ .93 6.5 6.7\\
.91 -9.2 -9\\ .91 -8.4 -8.2\\ .91 -8 -7.8\\ .91 -7 -6.8\\ .91 -6.2 -5.8\\ .91 -5.6 -4.8\\ .91 -4.6 5.7\\ .91 5.9 6.1\\ .91 6.3 6.5\\ .89 -9 -8.8\\ .89 -7.6 -7.4\\ .89 -7.2 -7\\ .89 -6.8 -5.8\\ .89 -5.6 -5.4\\ .89 -5 5.5\\ .89 7.3 7.5\\
.87 -8.8 -8.6\\ .87 -7.8 -7.4\\ .87 -6.2 -5.2\\ .87 -5 5.7\\ .87 6.3 6.5\\ .87 7.7 7.9\\ .85 -8.4 -8.2\\ .85 -8 -7.8\\ .85 -7.4 -7\\ .85 -6.8 -6.6\\ .85 -6.2 4.9\\ .85 5.1 5.9\\ .85 6.3 6.7\\ .85 9.2 9.4\\
.83 -9.6 -9.4\\ .83 -7.8 -7.6\\ .83 -7.2 -7\\ .83 -6.8 -6.4\\ .83 -6.2 -6\\ .83 -5.8 5.7\\ .83 6.1 6.3\\ .83 6.5 6.7\\ .81 -8 -7.8\\ .81 -7.2 -7\\ .81 -6.8 -6.6\\ .81 -6 5.1\\ .81 5.3 5.5\\ .81 6.3 6.5\\ .81 7.3 7.5\\
.79 -9.8 -9.6\\ .79 -9.2 -9\\ .79 -8.2 -8\\ .79 -7 -6.8\\ .79 -6.4 -5.6\\ .79 -5.4 -5\\ .79 -4.8 5.3\\ .79 5.9 6.1\\ .79 7.5 7.7\\ .77 -7.8 -7.6\\ .77 -7 -6.8\\ .77 -6.4 -6.2\\ .77 -6 -5\\ .77 -4.8 4.7\\ .77 4.9 5.3\\ .77 6.3 6.5\\
.75 -8.6 -8\\ .75 -7.8 -7.6\\ .75 -7.4 -7\\ .75 -6.8 -6.4\\ .75 -5.2 4.9\\ .75 5.1 5.3\\ .75 5.7 5.9\\ .75 7.1 7.7\\ .75 7.9 8.1\\ .73 -8.2 -8\\ .73 -7.2 -7\\ .73 -6.8 -6.2\\ .73 -6 5.1\\ .73 5.5 5.7\\ .73 6.1 6.5\\ .73 7.3 7.5\\
.71 -8 -7.8\\ .71 -7 -6.8\\ .71 -6.2 -5.4\\ .71 -5.2 -5\\ .71 -4.8 4.9\\ .71 5.3 5.7\\ .71 6.1 6.3\\ .71 7.1 7.7\\ .69 -7.6 -7.4\\ .69 -7.2 -7\\ .69 -6.6 -6.4\\ .69 -5.6 -5\\ .69 -4.8 4.7\\ .69 4.9 5.3\\ .69 6.5 6.9\\
.67 -6.8 -6.2\\ .67 -6 5.5\\ .67 5.7 5.9\\ .67 6.1 6.3\\ .67 7.7 7.9\\ .65 -6.8 -6.6\\ .65 -6.4 -6\\ .65 -5.6 -5.4\\ .65 -5.2 -4.8\\ .65 -4.4 -4.2\\ .65 -4 5.1\\ .65 5.5 5.7\\ .65 6.1 6.3\\ .65 6.5 6.7\\ .65 6.9 7.3\\
.63 -7.4 -6.6\\ .63 -5.8 -5.4\\ .63 -5.2 -5\\ .63 -4.6 4.7\\ .63 5.1 5.9\\ .63 6.7 6.9\\ .61 -8.6 -8.4\\ .61 -7.6 -7.4\\ .61 -7.2 -7\\ .61 -5.4 -4.6\\ .61 -4.4 4.3\\ .61 4.5 5.3\\ .61 5.7 5.9\\
.59 -7.2 -6.8\\ .59 -6.2 -5.8\\ .59 -5 -4.4\\ .59 -4.2 5.1\\ .59 5.5 5.9\\ .59 6.1 6.3\\ .59 6.7 6.9\\ .57 -7 -6.8\\ .57 -5.8 -5.2\\ .57 -5 5.1\\ .57 5.7 6.1\\ .57 6.3 6.5\\
.55 -8.4 -8.2\\ .55 -7.2 -7\\ .55 -6.8 -6.4\\ .55 -6.2 -6\\ .55 -5.6 -5.2\\ .55 -4.6 4.9\\ .55 5.3 5.9\\ .55 6.1 6.3\\ .53 -7.2 -6.8\\ .53 -5.4 -5\\ .53 -4.6 -4.2\\ .53 -4 4.3\\ .53 4.5 5.3\\ .53 5.5 5.7\\ .53 6.5 6.7\\
.51 -6 -5.8\\ .51 -5.6 -5\\ .51 -4.6 4.3\\ .51 4.7 4.9\\ .51 5.3 5.9\\ .51 6.5 6.7\\ .49 -6.4 -5.8\\ .49 -5.4 5.1\\ .49 5.5 5.9\\ .49 6.3 6.5\\ .47 -7 -6.8\\ .47 -6.6 -6.4\\ .47 -5.6 -5.4\\ .47 -4.2 5.3\\ .47 5.9 6.3\\
.45 -8.2 -8\\ .45 -5.4 -5.2\\ .45 -5 -4.8\\ .45 -4.6 -4.4\\ .45 -4.2 5.3\\ .45 5.7 5.9\\ .45 6.3 6.5\\ .45 6.9 7.1\\ .43 -9 -8.8\\ .43 -6 -5.6\\ .43 -5.2 -4\\ .43 -3.8 5.1\\ .43 5.5 5.7\\ .43 5.9 6.1\\ .43 6.3 6.5\\
.41 -8.8 -8.6\\ .41 -6 -5.8\\ .41 -5.2 -5\\ .41 -4.8 -4.4\\ .41 -4 4.3\\ .41 4.5 4.7\\ .41 5.1 5.3\\ .41 5.5 5.7\\ .39 -4.8 -4\\ .39 -3.8 -3.6\\ .39 -3.4 5.3\\ .39 5.5 5.7\\ .39 8.4 8.6\\
.37 -6.4 -6.2\\ .37 -4.4 -4.2\\ .37 -3.8 3.7\\ .37 3.9 4.9\\ .37 5.1 5.5\\ .37 5.7 5.9\\ .35 -7 -6.8\\ .35 -5.4 -5.2\\ .35 -4.4 -4.2\\ .35 -4 4.7\\ .35 4.9 5.3\\ .35 5.7 6.1\\ .35 7.7 8.1\\
.33 -6.2 -6\\ .33 -4.8 -4.6\\ .33 -4.4 4.7\\ .33 5.1 5.3\\ .33 5.7 6.3\\ .33 7.7 7.9\\ .31 -7 -6.8\\ .31 -5 -4.8\\ .31 -4.4 -4.2\\ .31 -4 -3.6\\ .31 -3.4 3.7\\ .31 3.9 4.7\\ .31 5.1 5.3\\ .31 5.9 6.1\\
.29 -4 4.1\\ .29 4.3 4.9\\ .29 5.1 5.5\\ .29 6.7 6.9\\ .29 7.3 7.5\\ .27 -6.4 -6.2\\ .27 -5 -4.4\\ .27 -4.2 -4\\ .27 -3.8 3.5\\ .27 3.7 4.5\\ .27 5.5 5.7\\ .27 8.2 8.4\\ .25 -3.8 3.9\\ .25 4.1 4.3\\ .25 4.5 4.7\\
.23 -4.4 -4\\ .23 -3.4 3.9\\ .23 4.1 4.3\\ .23 4.5 4.9\\ .23 5.3 5.5\\ .23 5.9 6.1\\ .21 -4.6 -4.4\\ .21 -4.2 -4\\ .21 -3.6 3.9\\ .21 4.1 4.5\\ .21 5.1 5.3\\ .19 -5 -4.8\\ .19 -4.6 -4.4\\ .19 -3.8 -3.2\\ .19 -3 4.3\\ .19 4.5 4.7\\ .19 4.9 5.1\\ .19 6.7 6.9\\
.17 -3.8 -3.2\\ .17 -3 3.5\\ .17 3.7 4.5\\ .17 4.9 5.1\\ .17 5.5 5.7\\ .17 6.7 6.9\\ .15 -4 -3.8\\ .15 -3.6 4.3\\ .15 4.7 5.1\\ .15 5.5 5.7\\ .15 6.7 6.9\\ .13 -7.4 -7.2\\ .13 -4.4 -4.2\\ .13 -4 -3.4\\ .13 -3.2 2.7\\ .13 2.9 3.5\\ .13 3.7 3.9\\ .13 4.5 4.7\\ .13 5.3 5.5\\ .13 5.7 5.9\\
.11 -4.8 -4.4\\ .11 -3.8 -3.2\\ .11 -3 2.7\\ .11 2.9 3.9\\ .11 4.1 4.5\\ .09 -4.8 -4.4\\ .09 -4.2 -3.2\\ .09 -3 3.7\\ .09 4 4.3\\ .07 -3.6 3.5\\ .07 3.9 4.1\\ .05 -3.6 -3.2\\ .05 -3 3.7\\ .03 -4 -3.6\\ .03 -3.4 3.5\\ .01 -3.9 -3.1\\ .01 -2.9 2.9\\ .01 3.1 3.7\\
}
\begin{document}
\begin{tikzpicture}
\path[use as bounding box] (0,0) rectangle (600pt,-1184.5pt);
\begin{axis}[panel, at={(113pt,-7.75pt)}, anchor=north west, height=347.25pt,
  ymin=-15, ymax=15, ytick={-15,-10,...,15}, minor y tick num=4, xticklabels={},
  yticklabels={\raisebox{26pt}{$-$15},$-$10,$-$5,0,5,10,\raisebox{-19.3pt}[0pt][0pt]{15}},
  ylabel={v$_{\mathrm{los}}$ [km/s]},
  ylabel style={at={(axis description cs:-.2,.5)}, anchor=center}]
\runplot\runsA{2.4pt}
\end{axis}
\begin{axis}[panel, at={(100.5pt,-393.5pt)}, anchor=north west, width=486pt, height=322.25pt,
  ymin=-2.5, ymax=2.5, ytick={-2,...,2}, minor y tick num=9, xticklabels={},
  yticklabels={$-$2,$-$1,0,1,2},
  ylabel={B$_{\mathrm{los}}$ [kG]},
  ylabel style={at={(axis description cs:-.15,.5)}, anchor=center}]
\runplot\runsB{3.3pt}
\end{axis}
\begin{axis}[panel, at={(113pt,-753.25pt)}, anchor=north west, height=348.5pt,
  ymin=0, ymax=2, ytick={0,.5,...,2}, minor y tick num=4,
  yticklabels={\raisebox{23pt}{0.0},0.5,1.0,1.5,\raisebox{-20.8pt}[0pt][0pt]{2.0}},
  xticklabels={$-$10,$-$5,0,5,10},
  ylabel={v$_{\mathrm{los}}$ [Mach]}, xlabel={V @ 227 [\%]},
  ylabel style={at={(axis description cs:-.176,.5)}, anchor=center},
  xlabel style={at={(axis description cs:.515,-.168)}, anchor=center}]
\runplot\runsC{3.55pt}
\end{axis}
\end{tikzpicture}
\end{document}
